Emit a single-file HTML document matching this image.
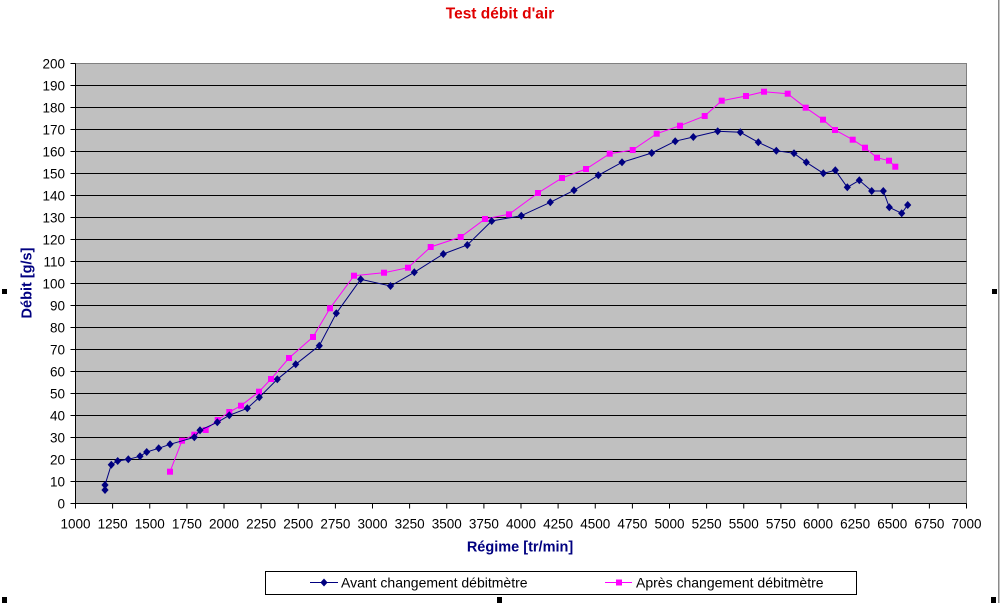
<!DOCTYPE html>
<html>
<head>
<meta charset="utf-8">
<style>
html,body{margin:0;padding:0;background:#fff;}
svg{display:block;}
text{font-family:"Liberation Sans",Arial,sans-serif;}
</style>
</head>
<body>
<svg width="1000" height="603" viewBox="0 0 1000 603" xmlns="http://www.w3.org/2000/svg">
<rect x="0" y="0" width="1000" height="603" fill="#fff"/>
<!-- right edge gray line -->
<rect x="998" y="0" width="1.5" height="603" fill="#8a8a8a"/>

<!-- title -->
<text x="500" y="18.3" text-anchor="middle" font-size="15.5" font-weight="bold" fill="#e00000">Test débit d'air</text>

<!-- plot area -->
<rect x="75.5" y="63.5" width="891" height="440" fill="#c0c0c0" stroke="#808080" stroke-width="1"/>

<!-- gridlines -->
<g stroke="#000" stroke-width="1" shape-rendering="crispEdges">
<line x1="75.5" x2="966.5" y1="85.5" y2="85.5"/>
<line x1="75.5" x2="966.5" y1="107.5" y2="107.5"/>
<line x1="75.5" x2="966.5" y1="129.5" y2="129.5"/>
<line x1="75.5" x2="966.5" y1="151.5" y2="151.5"/>
<line x1="75.5" x2="966.5" y1="173.5" y2="173.5"/>
<line x1="75.5" x2="966.5" y1="195.5" y2="195.5"/>
<line x1="75.5" x2="966.5" y1="217.5" y2="217.5"/>
<line x1="75.5" x2="966.5" y1="239.5" y2="239.5"/>
<line x1="75.5" x2="966.5" y1="261.5" y2="261.5"/>
<line x1="75.5" x2="966.5" y1="283.5" y2="283.5"/>
<line x1="75.5" x2="966.5" y1="305.5" y2="305.5"/>
<line x1="75.5" x2="966.5" y1="327.5" y2="327.5"/>
<line x1="75.5" x2="966.5" y1="349.5" y2="349.5"/>
<line x1="75.5" x2="966.5" y1="371.5" y2="371.5"/>
<line x1="75.5" x2="966.5" y1="393.5" y2="393.5"/>
<line x1="75.5" x2="966.5" y1="415.5" y2="415.5"/>
<line x1="75.5" x2="966.5" y1="437.5" y2="437.5"/>
<line x1="75.5" x2="966.5" y1="459.5" y2="459.5"/>
<line x1="75.5" x2="966.5" y1="481.5" y2="481.5"/>
</g>

<!-- axes lines -->
<g stroke="#000" stroke-width="1" shape-rendering="crispEdges">
<line x1="75.5" x2="75.5" y1="63.5" y2="503.5"/>
<line x1="75.5" x2="966.5" y1="503.5" y2="503.5"/>
</g>

<!-- y ticks -->
<g stroke="#000" stroke-width="1" shape-rendering="crispEdges">
<line x1="70.5" x2="75.5" y1="63.5" y2="63.5"/>
<line x1="70.5" x2="75.5" y1="85.5" y2="85.5"/>
<line x1="70.5" x2="75.5" y1="107.5" y2="107.5"/>
<line x1="70.5" x2="75.5" y1="129.5" y2="129.5"/>
<line x1="70.5" x2="75.5" y1="151.5" y2="151.5"/>
<line x1="70.5" x2="75.5" y1="173.5" y2="173.5"/>
<line x1="70.5" x2="75.5" y1="195.5" y2="195.5"/>
<line x1="70.5" x2="75.5" y1="217.5" y2="217.5"/>
<line x1="70.5" x2="75.5" y1="239.5" y2="239.5"/>
<line x1="70.5" x2="75.5" y1="261.5" y2="261.5"/>
<line x1="70.5" x2="75.5" y1="283.5" y2="283.5"/>
<line x1="70.5" x2="75.5" y1="305.5" y2="305.5"/>
<line x1="70.5" x2="75.5" y1="327.5" y2="327.5"/>
<line x1="70.5" x2="75.5" y1="349.5" y2="349.5"/>
<line x1="70.5" x2="75.5" y1="371.5" y2="371.5"/>
<line x1="70.5" x2="75.5" y1="393.5" y2="393.5"/>
<line x1="70.5" x2="75.5" y1="415.5" y2="415.5"/>
<line x1="70.5" x2="75.5" y1="437.5" y2="437.5"/>
<line x1="70.5" x2="75.5" y1="459.5" y2="459.5"/>
<line x1="70.5" x2="75.5" y1="481.5" y2="481.5"/>
<line x1="70.5" x2="75.5" y1="503.5" y2="503.5"/>
</g>

<!-- y labels -->
<g font-size="13.5" fill="#000" text-anchor="end">
<text x="65" y="68.3">200</text>
<text x="65" y="90.3">190</text>
<text x="65" y="112.3">180</text>
<text x="65" y="134.3">170</text>
<text x="65" y="156.3">160</text>
<text x="65" y="178.3">150</text>
<text x="65" y="200.3">140</text>
<text x="65" y="222.3">130</text>
<text x="65" y="244.3">120</text>
<text x="65" y="266.3">110</text>
<text x="65" y="288.3">100</text>
<text x="65" y="310.3">90</text>
<text x="65" y="332.3">80</text>
<text x="65" y="354.3">70</text>
<text x="65" y="376.3">60</text>
<text x="65" y="398.3">50</text>
<text x="65" y="420.3">40</text>
<text x="65" y="442.3">30</text>
<text x="65" y="464.3">20</text>
<text x="65" y="486.3">10</text>
<text x="65" y="508.3">0</text>
</g>

<!-- x ticks -->
<g stroke="#000" stroke-width="1">
<line x1="75.5" x2="75.5" y1="503.5" y2="508.5"/>
<line x1="112.6" x2="112.6" y1="503.5" y2="508.5"/>
<line x1="149.75" x2="149.75" y1="503.5" y2="508.5"/>
<line x1="186.9" x2="186.9" y1="503.5" y2="508.5"/>
<line x1="224" x2="224" y1="503.5" y2="508.5"/>
<line x1="261.1" x2="261.1" y1="503.5" y2="508.5"/>
<line x1="298.25" x2="298.25" y1="503.5" y2="508.5"/>
<line x1="335.4" x2="335.4" y1="503.5" y2="508.5"/>
<line x1="372.5" x2="372.5" y1="503.5" y2="508.5"/>
<line x1="409.6" x2="409.6" y1="503.5" y2="508.5"/>
<line x1="446.75" x2="446.75" y1="503.5" y2="508.5"/>
<line x1="483.9" x2="483.9" y1="503.5" y2="508.5"/>
<line x1="521" x2="521" y1="503.5" y2="508.5"/>
<line x1="558.1" x2="558.1" y1="503.5" y2="508.5"/>
<line x1="595.25" x2="595.25" y1="503.5" y2="508.5"/>
<line x1="632.4" x2="632.4" y1="503.5" y2="508.5"/>
<line x1="669.5" x2="669.5" y1="503.5" y2="508.5"/>
<line x1="706.6" x2="706.6" y1="503.5" y2="508.5"/>
<line x1="743.75" x2="743.75" y1="503.5" y2="508.5"/>
<line x1="780.9" x2="780.9" y1="503.5" y2="508.5"/>
<line x1="818" x2="818" y1="503.5" y2="508.5"/>
<line x1="855.1" x2="855.1" y1="503.5" y2="508.5"/>
<line x1="892.25" x2="892.25" y1="503.5" y2="508.5"/>
<line x1="929.4" x2="929.4" y1="503.5" y2="508.5"/>
<line x1="966.5" x2="966.5" y1="503.5" y2="508.5"/>
</g>

<!-- x labels -->
<g font-size="13.5" fill="#000" text-anchor="middle">
<text x="75.5" y="528.3">1000</text>
<text x="112.6" y="528.3">1250</text>
<text x="149.75" y="528.3">1500</text>
<text x="186.9" y="528.3">1750</text>
<text x="224" y="528.3">2000</text>
<text x="261.1" y="528.3">2250</text>
<text x="298.25" y="528.3">2500</text>
<text x="335.4" y="528.3">2750</text>
<text x="372.5" y="528.3">3000</text>
<text x="409.6" y="528.3">3250</text>
<text x="446.75" y="528.3">3500</text>
<text x="483.9" y="528.3">3750</text>
<text x="521" y="528.3">4000</text>
<text x="558.1" y="528.3">4250</text>
<text x="595.25" y="528.3">4500</text>
<text x="632.4" y="528.3">4750</text>
<text x="669.5" y="528.3">5000</text>
<text x="706.6" y="528.3">5250</text>
<text x="743.75" y="528.3">5500</text>
<text x="780.9" y="528.3">5750</text>
<text x="818" y="528.3">6000</text>
<text x="855.1" y="528.3">6250</text>
<text x="892.25" y="528.3">6500</text>
<text x="929.4" y="528.3">6750</text>
<text x="966.5" y="528.3">7000</text>
</g>

<!-- axis titles -->
<text x="520" y="551.5" text-anchor="middle" font-size="14.5" font-weight="bold" fill="#000080">Régime [tr/min]</text>
<text transform="translate(31.5,283) rotate(-90)" text-anchor="middle" font-size="14.5" font-weight="bold" fill="#000080">Débit [g/s]</text>

<defs>
<path id="dia" d="M0,-4 L3.6,0 L0,4 L-3.6,0 Z" fill="#000080"/>
<rect id="sq" x="-3" y="-3" width="6" height="6" fill="#ff00ff"/>
</defs>

<!-- pink series -->
<polyline fill="none" stroke="#ff00ff" stroke-width="1" points="170,471.7 182,440.7 194.3,434.7 205.7,430 217.7,420 229.3,412 241,405.7 259,391.7 271,379 289,358 313,337 330,308.3 354,275.7 384,272.7 408,267.7 430.7,247 460.7,237 485,219 509,214.3 538,193 562,178 586,169 609.7,153.7 632.7,150 656.7,133.7 680,125.7 704.7,116 721.7,100.7 746,96 764,91.7 787.7,93.7 805.7,107.7 823,119.7 835,130 852.7,139.7 865,147.7 877,157.7 889,160.7 895.3,166.7"/>
<g>
<use href="#sq" x="170" y="471.7"/><use href="#sq" x="182" y="440.7"/><use href="#sq" x="194.3" y="434.7"/><use href="#sq" x="205.7" y="430"/><use href="#sq" x="217.7" y="420"/><use href="#sq" x="229.3" y="412"/><use href="#sq" x="241" y="405.7"/><use href="#sq" x="259" y="391.7"/><use href="#sq" x="271" y="379"/><use href="#sq" x="289" y="358"/><use href="#sq" x="313" y="337"/><use href="#sq" x="330" y="308.3"/><use href="#sq" x="354" y="275.7"/><use href="#sq" x="384" y="272.7"/><use href="#sq" x="408" y="267.7"/><use href="#sq" x="430.7" y="247"/><use href="#sq" x="460.7" y="237"/><use href="#sq" x="485" y="219"/><use href="#sq" x="509" y="214.3"/><use href="#sq" x="538" y="193"/><use href="#sq" x="562" y="178"/><use href="#sq" x="586" y="169"/><use href="#sq" x="609.7" y="153.7"/><use href="#sq" x="632.7" y="150"/><use href="#sq" x="656.7" y="133.7"/><use href="#sq" x="680" y="125.7"/><use href="#sq" x="704.7" y="116"/><use href="#sq" x="721.7" y="100.7"/><use href="#sq" x="746" y="96"/><use href="#sq" x="764" y="91.7"/><use href="#sq" x="787.7" y="93.7"/><use href="#sq" x="805.7" y="107.7"/><use href="#sq" x="823" y="119.7"/><use href="#sq" x="835" y="130"/><use href="#sq" x="852.7" y="139.7"/><use href="#sq" x="865" y="147.7"/><use href="#sq" x="877" y="157.7"/><use href="#sq" x="889" y="160.7"/><use href="#sq" x="895.3" y="166.7"/>
</g>

<!-- blue series -->
<polyline fill="none" stroke="#000080" stroke-width="1" points="105,490 105,485 111.3,464.7 117.7,461 128.3,459.3 140,456.3 146.7,452 158.7,448.3 170,444.3 194.3,437.3 200,430.3 217.3,422.3 229.3,415.3 247.3,408.3 259.3,397.3 277.3,379.3 295.7,364.3 319.3,345.7 336.3,313.3 360.7,279.3 390.5,286 414.3,272.3 443.3,254 467.3,245 491.7,221 521.3,215.7 550.3,202.3 574,190.3 598.3,175.3 622,162.3 651.7,153 675.2,141.2 693.3,137 717.7,131.3 740.3,132.3 758.3,142.3 776.3,150.7 794,153.3 806.3,162.3 823.3,173.3 835.3,170.3 847.3,187.3 859.3,180.3 871.7,191 883.3,191 889.3,207.3 901.7,213.3 907.7,205"/>
<g>
<use href="#dia" x="105" y="490"/><use href="#dia" x="105" y="485"/><use href="#dia" x="111.3" y="464.7"/><use href="#dia" x="117.7" y="461"/><use href="#dia" x="128.3" y="459.3"/><use href="#dia" x="140" y="456.3"/><use href="#dia" x="146.7" y="452"/><use href="#dia" x="158.7" y="448.3"/><use href="#dia" x="170" y="444.3"/><use href="#dia" x="194.3" y="437.3"/><use href="#dia" x="200" y="430.3"/><use href="#dia" x="217.3" y="422.3"/><use href="#dia" x="229.3" y="415.3"/><use href="#dia" x="247.3" y="408.3"/><use href="#dia" x="259.3" y="397.3"/><use href="#dia" x="277.3" y="379.3"/><use href="#dia" x="295.7" y="364.3"/><use href="#dia" x="319.3" y="345.7"/><use href="#dia" x="336.3" y="313.3"/><use href="#dia" x="360.7" y="279.3"/><use href="#dia" x="390.5" y="286"/><use href="#dia" x="414.3" y="272.3"/><use href="#dia" x="443.3" y="254"/><use href="#dia" x="467.3" y="245"/><use href="#dia" x="491.7" y="221"/><use href="#dia" x="521.3" y="215.7"/><use href="#dia" x="550.3" y="202.3"/><use href="#dia" x="574" y="190.3"/><use href="#dia" x="598.3" y="175.3"/><use href="#dia" x="622" y="162.3"/><use href="#dia" x="651.7" y="153"/><use href="#dia" x="675.2" y="141.2"/><use href="#dia" x="693.3" y="137"/><use href="#dia" x="717.7" y="131.3"/><use href="#dia" x="740.3" y="132.3"/><use href="#dia" x="758.3" y="142.3"/><use href="#dia" x="776.3" y="150.7"/><use href="#dia" x="794" y="153.3"/><use href="#dia" x="806.3" y="162.3"/><use href="#dia" x="823.3" y="173.3"/><use href="#dia" x="835.3" y="170.3"/><use href="#dia" x="847.3" y="187.3"/><use href="#dia" x="859.3" y="180.3"/><use href="#dia" x="871.7" y="191"/><use href="#dia" x="883.3" y="191"/><use href="#dia" x="889.3" y="207.3"/><use href="#dia" x="901.7" y="213.3"/><use href="#dia" x="907.7" y="205"/>
</g>

<!-- legend -->
<rect x="265.5" y="571.5" width="591" height="23" fill="#fff" stroke="#000" stroke-width="1"/>
<line x1="310" x2="338" y1="582.5" y2="582.5" stroke="#000080" stroke-width="1"/>
<use href="#dia" x="324" y="582.5"/>
<text x="341" y="587.5" font-size="14" fill="#000">Avant changement débitmètre</text>
<line x1="605" x2="632" y1="582.5" y2="582.5" stroke="#ff00ff" stroke-width="1"/>
<use href="#sq" x="619" y="582.5"/>
<text x="636" y="587.5" font-size="14" fill="#000">Après changement débitmètre</text>

<!-- selection handles -->
<g fill="#000">
<rect x="2" y="289" width="5" height="5"/>
<rect x="992" y="289" width="5" height="5"/>
<rect x="2" y="597" width="5" height="6"/>
<rect x="497" y="597" width="5" height="6"/>
<rect x="991" y="597" width="5" height="6"/>
</g>
</svg>
</body>
</html>
